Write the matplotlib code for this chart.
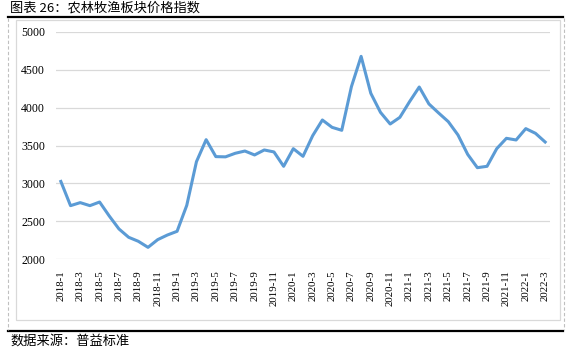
import matplotlib
matplotlib.use("Agg")
import matplotlib.pyplot as plt
from matplotlib.lines import Line2D
from matplotlib.patches import Rectangle

months = [f"{y}-{m}" for y in range(2018, 2023) for m in range(1, 13)][:51]
values = [3025, 2705, 2745, 2705, 2753, 2568, 2397, 2287, 2234, 2154, 2256, 2317,
          2366, 2709, 3286, 3577, 3353, 3350, 3397, 3427, 3375, 3441, 3415, 3225,
          3458, 3357, 3630, 3837, 3740, 3701, 4278, 4678, 4190, 3938, 3784, 3872,
          4079, 4273, 4049, 3930, 3815, 3639, 3383, 3207, 3225, 3458, 3595, 3573,
          3723, 3661, 3546]
yticks = [2000, 2500, 3000, 3500, 4000, 4500, 5000]
title = "图表 26：农林牧渔板块价格指数"
source = "数据来源：普益标准"

W, H = 570, 352
fig = plt.figure(figsize=(W / 100, H / 100), dpi=100)

def fx(px):
    return px / W

def fy(py):
    return 1 - py / H

cjk = ["Noto Sans CJK SC", "DejaVu Sans"]

# frame decorations
fig.add_artist(Line2D([fx(8), fx(563)], [fy(17), fy(17)], color="black", lw=1.6))
fig.add_artist(Line2D([fx(8), fx(563)], [fy(331), fy(331)], color="black", lw=1.6))
for xv in (8.3, 563.5):
    fig.add_artist(Line2D([fx(xv), fx(xv)], [fy(18), fy(330)], color="#BFBFBF",
                          lw=0.8, linestyle=(0, (3, 2))))
fig.add_artist(Rectangle((fx(15.7), fy(320)), fx(560) - fx(15.7), fy(19.5) - fy(320),
                         fill=False, edgecolor="#D9D9D9", lw=0.9))

fig.text(fx(10), fy(8.5), title, fontsize=9.5, family=cjk, va="center", ha="left")
fig.text(fx(10), fy(341), source, fontsize=9.5, family=cjk, va="center", ha="left")

ax = fig.add_axes([fx(56), fy(259), fx(550) - fx(56), fy(32) - fy(259)])
x = list(range(len(months)))
ax.plot(x, values, color="#5B9BD5", lw=2.2, solid_joinstyle="round", zorder=3)
ax.set_xlim(-0.5, len(months) - 0.5)
ax.set_ylim(2000, 5000)
ax.set_yticks(yticks)
ax.set_yticklabels([str(v) for v in yticks], family="Liberation Serif", fontsize=8.5)
ax.set_xticks(x[::2])
ax.set_xticklabels(months[::2], rotation=90, family="Liberation Serif", fontsize=7.8)
ax.tick_params(axis="both", length=0)
ax.tick_params(axis="y", pad=8)
ax.tick_params(axis="x", pad=8)
ax.grid(axis="y", color="#D9D9D9", lw=0.9)
ax.set_axisbelow(True)
for s in ax.spines.values():
    s.set_visible(False)

fig.savefig("out.png", dpi=100)
